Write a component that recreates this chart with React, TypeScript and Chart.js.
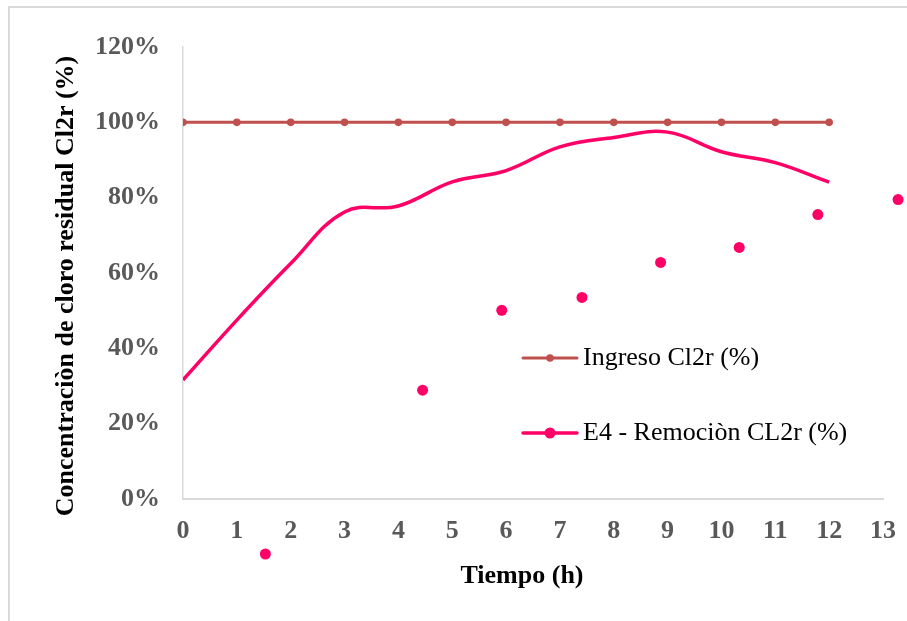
import { useEffect, useRef } from "react";
import { Chart, registerables } from "chart.js";

Chart.register(...registerables);

// Sampling hours (x axis) and the series measured at each hour, in %
const hours = [0, 1, 2, 3, 4, 5, 6, 7, 8, 9, 10, 11, 12];
const ingresoValues = [100, 100, 100, 100, 100, 100, 100, 100, 100, 100, 100, 100, 100];
const e4Values = [31.6, 47.5, 62.5, 76.2, 77.8, 84.2, 87.2, 93.5, 96.0, 97.4, 92.2, 89.3, 84.1];

// Marker points of the E4 series, placed on their own hour positions
const e4MarkerHours = [1.53, 4.45, 5.92, 7.41, 8.87, 10.33, 11.79, 13.28];
const e4MarkerValues = [-14.6, 28.9, 50.1, 53.5, 62.8, 66.8, 75.5, 79.5];

// Axis ranges
const xTickMin = 0;
const xTickMax = 13;
const yTickMin = 0;
const yTickMax = 120;
const yTickStep = 20;

const INGRESO_LABEL = "Ingreso Cl2r (%)";
const E4_LABEL = "E4 - Remociòn CL2r (%)";
const X_TITLE = "Tiempo (h)";
const Y_TITLE = "Concentraciòn de cloro residual Cl2r (%)";

const INGRESO_COLOR = "#C0504D";
const E4_COLOR = "#FF0066";
const FONT = "'Liberation Serif', 'Times New Roman', serif";

const WIDTH = 907;
const HEIGHT = 621;
const MARKER_RADIUS = 5.5;

type LegendEntry = { label: string; color: string; lineWidth: number; radius: number };

const legendEntries: LegendEntry[] = [
  { label: INGRESO_LABEL, color: INGRESO_COLOR, lineWidth: 3, radius: 3.8 },
  { label: E4_LABEL, color: E4_COLOR, lineWidth: 3.5, radius: MARKER_RADIUS },
];

// Free-standing markers may sit outside the plot area, so they are painted
// here from the scales rather than by the point elements (which get culled).
const freeMarkersPlugin = {
  id: "freeMarkers",
  afterDatasetsDraw(chart: any) {
    const ctx: CanvasRenderingContext2D = chart.ctx;
    const xs = chart.scales.x;
    const ys = chart.scales.y;
    chart.data.datasets.forEach((ds: any, i: number) => {
      if (!ds.freeMarkers || !chart.isDatasetVisible(i)) return;
      ctx.save();
      ctx.fillStyle = ds.backgroundColor;
      for (const p of ds.data) {
        ctx.beginPath();
        ctx.arc(xs.getPixelForValue(p.x), ys.getPixelForValue(p.y), ds.markerRadius, 0, Math.PI * 2);
        ctx.fill();
      }
      ctx.restore();
    });
  },
};

// Draws the axis titles and the legend block inside the plot
const overlayPlugin = {
  id: "overlay",
  afterDatasetsDraw(chart: any) {
    const ctx: CanvasRenderingContext2D = chart.ctx;
    const a = chart.chartArea;

    ctx.save();
    ctx.fillStyle = "#000000";
    ctx.font = `bold 26px ${FONT}`;
    ctx.textAlign = "center";
    ctx.textBaseline = "middle";
    ctx.fillText(X_TITLE, 522, a.bottom + 77);
    ctx.translate(66, (a.top + a.bottom) / 2 + 13);
    ctx.rotate(-Math.PI / 2);
    ctx.fillText(Y_TITLE, 0, 0);
    ctx.restore();

    const x0 = 523;
    const lineLen = 54;
    let y = 358;
    for (const e of legendEntries) {
      ctx.save();
      ctx.strokeStyle = e.color;
      ctx.lineWidth = e.lineWidth;
      ctx.lineCap = "round";
      ctx.beginPath();
      ctx.moveTo(x0, y);
      ctx.lineTo(x0 + lineLen, y);
      ctx.stroke();
      ctx.fillStyle = e.color;
      ctx.beginPath();
      ctx.arc(x0 + lineLen / 2, y, e.radius, 0, Math.PI * 2);
      ctx.fill();
      ctx.fillStyle = "#000000";
      ctx.font = `26px ${FONT}`;
      ctx.textAlign = "left";
      ctx.textBaseline = "middle";
      ctx.fillText(e.label, x0 + lineLen + 6, y);
      ctx.restore();
      y += 75;
    }
  },
};

function ChlorineChart() {
  const canvasRef = useRef<HTMLCanvasElement | null>(null);

  useEffect(() => {
    if (!canvasRef.current) return;
    const tickFont = { family: FONT, size: 26, weight: "bold" as const };
    const chart = new Chart(canvasRef.current, {
      type: "line",
      data: {
        datasets: [
          {
            label: INGRESO_LABEL,
            data: hours.map((h, i) => ({ x: h, y: ingresoValues[i] })),
            borderColor: INGRESO_COLOR,
            backgroundColor: INGRESO_COLOR,
            borderWidth: 3,
            pointStyle: "circle",
            pointRadius: 3.8,
            pointBorderWidth: 0,
            pointBackgroundColor: INGRESO_COLOR,
            tension: 0,
          },
          {
            label: E4_LABEL,
            data: hours.map((h, i) => ({ x: h, y: e4Values[i] })),
            borderColor: E4_COLOR,
            backgroundColor: E4_COLOR,
            borderWidth: 3.5,
            pointRadius: 0,
            tension: 0.4,
          },
          {
            label: E4_LABEL + " marcas",
            data: e4MarkerHours.map((h, i) => ({ x: h, y: e4MarkerValues[i] })),
            showLine: false,
            borderColor: E4_COLOR,
            backgroundColor: E4_COLOR,
            pointRadius: 0,
            freeMarkers: true,
            markerRadius: MARKER_RADIUS,
          } as any,
        ],
      },
      options: {
        responsive: false,
        animation: false,
        devicePixelRatio: 1,
        layout: { padding: { left: 90, right: 24, top: 47, bottom: 40 } },
        plugins: {
          legend: { display: false },
          tooltip: { enabled: false },
        },
        scales: {
          x: {
            type: "linear",
            min: xTickMin,
            max: xTickMax,
            afterFit(scale: any) {
              scale.height = HEIGHT - 40 - 499;
              scale.paddingLeft = 0;
              scale.paddingRight = 0;
            },
            grid: { display: false, drawTicks: false },
            border: { display: true, color: "#D9D9D9", width: 2 },
            ticks: { stepSize: 1, padding: 17, color: "#595959", font: tickFont },
          },
          y: {
            min: yTickMin,
            max: yTickMax,
            afterFit(scale: any) {
              scale.width = 183 - 90;
              scale.paddingTop = 0;
              scale.paddingBottom = 0;
            },
            grid: { display: false, drawTicks: false },
            border: { display: true, color: "#D9D9D9", width: 1.5 },
            ticks: {
              stepSize: yTickStep,
              padding: 23,
              color: "#595959",
              font: tickFont,
              callback: (v: any) => `${v}%`,
            },
          },
        },
      },
      plugins: [freeMarkersPlugin, overlayPlugin],
    });
    return () => chart.destroy();
  }, []);

  return <canvas ref={canvasRef} width={WIDTH} height={HEIGHT} style={{ display: "block" }} />;
}

export default function App() {
  return (
    <div style={{ position: "fixed", left: 0, top: 0, width: WIDTH, height: HEIGHT, background: "#ffffff", overflow: "hidden" }}>
      <ChlorineChart />
      <div
        style={{
          position: "absolute",
          left: 8,
          top: 6,
          width: 1200,
          height: 1200,
          borderLeft: "2px solid #D9D9D9",
          borderTop: "2px solid #D9D9D9",
          pointerEvents: "none",
        }}
      />
    </div>
  );
}
